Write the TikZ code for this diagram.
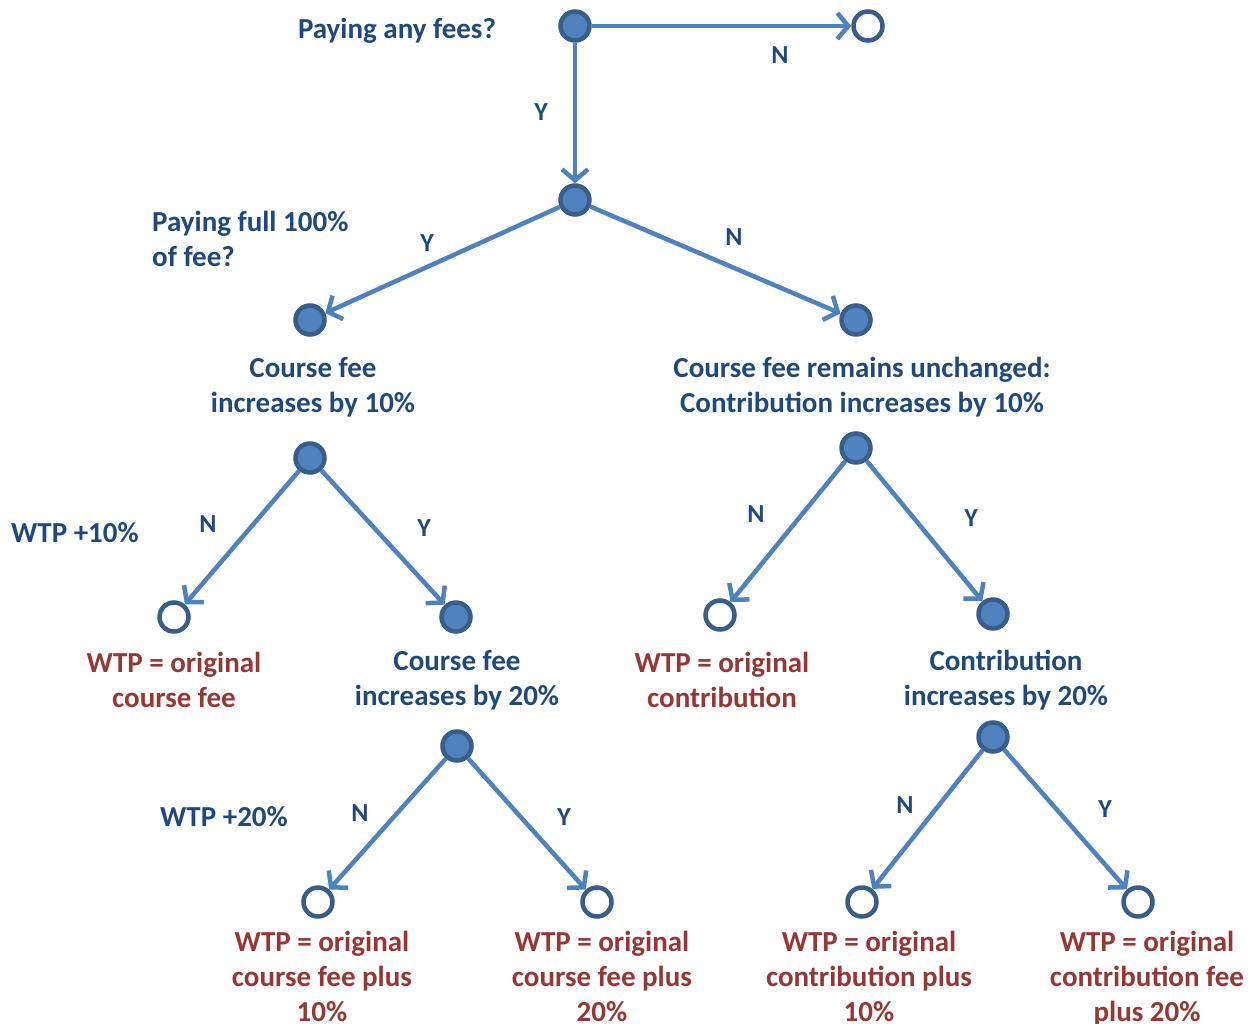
\documentclass[tikz,border=0pt]{standalone}
\usepackage{fontspec}
\setmainfont{Carlito}
\usetikzlibrary{arrows.meta}
\definecolor{lineblue}{HTML}{4F81BD}
\definecolor{ringblue}{HTML}{385D8A}
\definecolor{txtblue}{HTML}{1F497D}
\definecolor{txtred}{HTML}{953735}
\begin{document}
\begin{tikzpicture}[x=1pt,y=-1pt,
  full/.style={circle,draw=ringblue,fill=lineblue,line width=4.5pt,minimum size=29pt,inner sep=0pt},
  open/.style={circle,draw=ringblue,fill=white,line width=4.5pt,minimum size=29pt,inner sep=0pt},
  conn/.style={draw=lineblue,line width=4.5pt,-{Straight Barb[length=11pt,width=26pt]}},
  bt/.style={text=txtblue,font=\bfseries\fontsize{29}{35}\selectfont,align=center,inner sep=0pt},
  rt/.style={text=txtred,font=\bfseries\fontsize{29}{35}\selectfont,align=center,inner sep=0pt},
  lab/.style={text=txtblue,font=\bfseries\fontsize{26}{30}\selectfont,inner sep=0pt}]
\useasboundingbox (0,0) rectangle (1257,1024);
% nodes
\node[full] (A) at (575,26) {};
\node[open] (An) at (868,26) {};
\node[full] (B) at (575,200) {};
\node[full] (C) at (310,320) {};
\node[full] (D) at (856,320) {};
\node[full] (E) at (310,458) {};
\node[full] (F) at (856,448) {};
\node[open] (G) at (174,617) {};
\node[full] (H) at (456,617) {};
\node[open] (I) at (720,615) {};
\node[full] (J) at (993,614) {};
\node[full] (K) at (457,746) {};
\node[full] (L) at (993,737) {};
\node[open] (M) at (318,902) {};
\node[open] (N) at (597,902) {};
\node[open] (O) at (862,902) {};
\node[open] (P) at (1138,902) {};
% connectors
\draw[conn] (A) -- (An);
\draw[conn] (A) -- (B);
\draw[conn] (B) -- (C);
\draw[conn] (B) -- (D);
\draw[conn] (E) -- (G);
\draw[conn] (E) -- (H);
\draw[conn] (F) -- (I);
\draw[conn] (F) -- (J);
\draw[conn] (K) -- (M);
\draw[conn] (K) -- (N);
\draw[conn] (L) -- (O);
\draw[conn] (L) -- (P);
% texts
\node[bt] (t1) at (397,31) {Paying any fees?};
\node[bt,align=left,anchor=west] (t2) at (152,239) {Paying full 100\%\\of fee?};
\node[bt] (t3) at (313,387) {Course fee\\increases by 10\%};
\node[bt] (t4) at (862,387) {Course fee remains unchanged:\\Contribution increases by 10\%};
\node[bt] (t5) at (75,533) {WTP +10\%};
\node[rt] (t6) at (174,680) {WTP = original\\course fee};
\node[bt] (t7) at (457,680) {Course fee\\increases by 20\%};
\node[rt] (t8) at (722,680) {WTP = original\\contribution};
\node[bt] (t9) at (1006,680) {Contribution\\increases by 20\%};
\node[bt] (t10) at (224,817) {WTP +20\%};
\node[rt,anchor=north] (t11) at (322,931) {WTP = original\\course fee plus\\10\%};
\node[rt,anchor=north] (t12) at (602,931) {WTP = original\\course fee plus\\20\%};
\node[rt,anchor=north] (t13) at (869,931) {WTP = original\\contribution plus\\10\%};
\node[rt,anchor=north] (t14) at (1147,931) {WTP = original\\contribution fee\\plus 20\%};
% branch labels
\node[lab] (l1) at (780,55) {N};
\node[lab] (l2) at (541,112) {Y};
\node[lab] (l3) at (427,243) {Y};
\node[lab] (l4) at (734,237) {N};
\node[lab] (l5) at (208,524) {N};
\node[lab] (l6) at (424,528) {Y};
\node[lab] (l7) at (756,514) {N};
\node[lab] (l8) at (971,518) {Y};
\node[lab] (l9) at (360,813) {N};
\node[lab] (l10) at (564,817) {Y};
\node[lab] (l11) at (905,805) {N};
\node[lab] (l12) at (1105,809) {Y};
\end{tikzpicture}
\end{document}
